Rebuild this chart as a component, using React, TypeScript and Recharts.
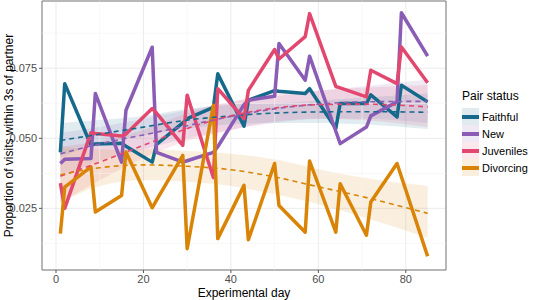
import React from 'react';
import {
  ComposedChart,
  CartesianGrid,
  XAxis,
  YAxis,
  Line,
  Area,
  ReferenceLine,
  ReferenceArea,
} from 'recharts';

// observation days
const days = [1, 2, 8, 9, 15, 16, 22, 23, 29, 30, 36, 37, 43, 44, 50, 51, 57, 58, 64, 65, 71, 72, 78, 79, 85];

const faithful = [0.045, 0.0695, 0.0475, 0.048, 0.0482, 0.0472, 0.0415, 0.0478, 0.0555, 0.057, 0.061, 0.073, 0.0543, 0.0636, 0.067, 0.0668, 0.066, 0.0677, 0.0535, 0.0624, 0.0624, 0.0655, 0.0576, 0.0689, 0.063];
const newPair = [0.041, 0.0425, 0.0428, 0.066, 0.0415, 0.06, 0.0825, 0.045, 0.0415, 0.042, 0.045, 0.047, 0.062, 0.0636, 0.065, 0.0838, 0.0707, 0.0793, 0.0525, 0.0481, 0.054, 0.058, 0.063, 0.0948, 0.0793];
const juveniles = [0.034, 0.025, 0.052, 0.0517, 0.0508, 0.0515, 0.0606, 0.059, 0.0475, 0.0654, 0.036, 0.0677, 0.057, 0.0671, 0.0817, 0.0783, 0.0863, 0.0945, 0.0685, 0.068, 0.0648, 0.0743, 0.0695, 0.0826, 0.0698];
const divorcing = [0.016, 0.0326, 0.0398, 0.0237, 0.0296, 0.0451, 0.0252, 0.0279, 0.0439, 0.0106, 0.0618, 0.0142, 0.0332, 0.0138, 0.041, 0.026, 0.0165, 0.0419, 0.0165, 0.0338, 0.0154, 0.0273, 0.041, 0.0363, 0.0079];

// smoothed trend + confidence band
const trendDays = [1, 10, 20, 30, 40, 50, 60, 70, 85];
const faithfulFit = [0.0492, 0.0515, 0.054, 0.0565, 0.058, 0.059, 0.0594, 0.0595, 0.0593];
const faithfulLo = [0.0435, 0.048, 0.051, 0.0535, 0.055, 0.0555, 0.0555, 0.055, 0.0533];
const faithfulHi = [0.0555, 0.0565, 0.058, 0.0605, 0.062, 0.0625, 0.0635, 0.0645, 0.066];
const newFit = [0.0445, 0.048, 0.0512, 0.0545, 0.0578, 0.0605, 0.0622, 0.063, 0.0632];
const newLo = [0.036, 0.042, 0.046, 0.05, 0.053, 0.0555, 0.057, 0.057, 0.0555];
const newHi = [0.052, 0.054, 0.057, 0.06, 0.063, 0.065, 0.067, 0.0685, 0.071];
const juvFit = [0.0365, 0.0415, 0.0475, 0.0535, 0.058, 0.0608, 0.062, 0.0622, 0.0612];
const juvLo = [0.027, 0.035, 0.043, 0.049, 0.053, 0.056, 0.057, 0.0565, 0.054];
const juvHi = [0.047, 0.049, 0.053, 0.059, 0.063, 0.066, 0.067, 0.068, 0.069];
const divFit = [0.037, 0.0395, 0.0405, 0.04, 0.0388, 0.0362, 0.0327, 0.0292, 0.0232];
const divLo = [0.027, 0.033, 0.035, 0.0345, 0.033, 0.03, 0.0265, 0.022, 0.0145];
const divHi = [0.047, 0.046, 0.046, 0.0455, 0.0445, 0.0425, 0.039, 0.036, 0.033];

const xTicks = [0, 20, 40, 60, 80];
const xMinor = [10, 30, 50, 70];
const yTicks = [0.025, 0.05, 0.075];
const yMinor = [0.0125, 0.0375, 0.0625, 0.0875];

const series = [
  { name: 'Faithful', color: '#15698b', raw: faithful, fit: faithfulFit, lo: faithfulLo, hi: faithfulHi },
  { name: 'New', color: '#8a5cb5', raw: newPair, fit: newFit, lo: newLo, hi: newHi },
  { name: 'Juveniles', color: '#e2486f', raw: juveniles, fit: juvFit, lo: juvLo, hi: juvHi },
  { name: 'Divorcing', color: '#d98406', raw: divorcing, fit: divFit, lo: divLo, hi: divHi },
];

const rawData = series.map((s) => days.map((d, i) => ({ day: d, v: s.raw[i] })));
const fitData = series.map((s) =>
  trendDays.map((d, i) => ({ day: d, fit: s.fit[i], band: [s.lo[i], s.hi[i]] }))
);

const font = '"Liberation Sans", Arial, sans-serif';
const X_DOMAIN: [number, number] = [-3.2, 89.2];
const Y_DOMAIN: [number, number] = [0.003, 0.099];

const App: React.FC = () => {
  return (
    <div style={{ position: 'absolute', left: 0, top: 0, width: 534, height: 300, background: '#fff', fontFamily: font }}>
      <ComposedChart width={534} height={300} margin={{ top: 1, right: 88, bottom: 0, left: 0 }}>
        <CartesianGrid stroke="#ebebeb" strokeWidth={1} />
        {xMinor.map((x) => (
          <ReferenceLine key={'x' + x} x={x} stroke="#f3f3f3" strokeWidth={0.6} />
        ))}
        {yMinor.map((y) => (
          <ReferenceLine key={'y' + y} y={y} stroke="#f3f3f3" strokeWidth={0.6} />
        ))}
        <XAxis
          type="number"
          dataKey="day"
          domain={X_DOMAIN}
          ticks={xTicks}
          allowDataOverflow
          height={30}
          axisLine={false}
          tickSize={3}
          tickLine={{ stroke: '#555' }}
          tick={{ fill: '#4d4d4d', fontSize: 11, fontFamily: font }}
          label={{ value: 'Experimental day', position: 'insideBottom', offset: 3, fill: '#000', fontSize: 12, fontFamily: font }}
        />
        <YAxis
          type="number"
          domain={Y_DOMAIN}
          ticks={yTicks}
          allowDataOverflow
          width={42}
          axisLine={false}
          tickSize={3}
          tickLine={{ stroke: '#555' }}
          tickFormatter={(v: number) => v.toFixed(3)}
          tick={{ fill: '#4d4d4d', fontSize: 11, fontFamily: font }}
          label={{
            value: 'Proportion of visits within 3s of partner',
            angle: -90,
            position: 'insideLeft',
            offset: 9,
            style: { textAnchor: 'middle' },
            fill: '#000',
            fontSize: 12,
            fontFamily: font,
          }}
        />
        {series.map((s, i) => (
          <Area
            key={'band' + s.name}
            data={fitData[i]}
            dataKey="band"
            type="monotone"
            stroke="none"
            fill={s.color}
            fillOpacity={0.13}
            isAnimationActive={false}
          />
        ))}
        {series.map((s, i) => (
          <Line
            key={'raw' + s.name}
            data={rawData[i]}
            dataKey="v"
            type="linear"
            stroke={s.color}
            strokeWidth={3.5}
            strokeLinejoin="round"
            dot={false}
            isAnimationActive={false}
          />
        ))}
        {series.map((s, i) => (
          <Line
            key={'fit' + s.name}
            data={fitData[i]}
            dataKey="fit"
            type="monotone"
            stroke={s.color}
            strokeWidth={1.6}
            strokeDasharray="5 4"
            dot={false}
            isAnimationActive={false}
          />
        ))}
        <ReferenceArea
          x1={X_DOMAIN[0]}
          x2={X_DOMAIN[1]}
          y1={Y_DOMAIN[0]}
          y2={Y_DOMAIN[1]}
          fill="none"
          stroke="#7a7a7a"
          strokeWidth={1}
        />
      </ComposedChart>
      <div style={{ position: 'absolute', left: 462, top: 89, fontSize: 12, color: '#000' }}>Pair status</div>
      {series.map((s, i) => (
        <div key={s.name} style={{ position: 'absolute', left: 462, top: 108 + i * 17, height: 17, display: 'flex', alignItems: 'center' }}>
          <div style={{ width: 17, height: 17, background: s.color + '22', position: 'relative' }}>
            <div style={{ position: 'absolute', left: 0, right: 0, top: 7, height: 3.5, background: s.color }} />
          </div>
          <span style={{ marginLeft: 3, fontSize: 11, color: '#000' }}>{s.name}</span>
        </div>
      ))}
    </div>
  );
};

export default App;
